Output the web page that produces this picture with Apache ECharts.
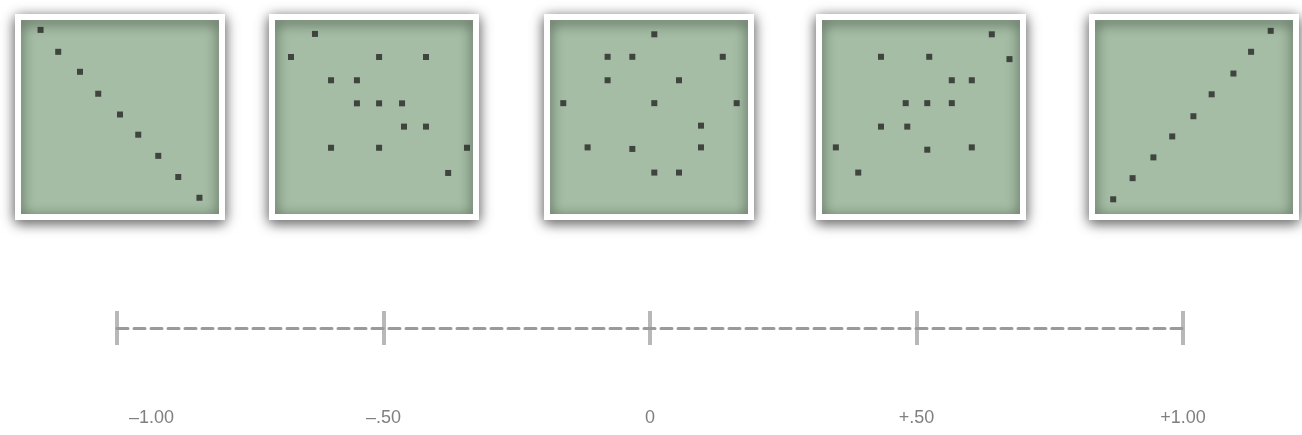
<!DOCTYPE html>
<html>
<head>
<meta charset="utf-8">
<script src="https://cdn.jsdelivr.net/npm/echarts@6/dist/echarts.min.js"></script>
<style>
  html, body { margin: 0; padding: 0; background: #fff; }
  #main { width: 1302px; height: 435px; }
</style>
</head>
<body>
<div id="main"></div>
<script>
// points, [x, y] on a 0-100 scale
var perfectNeg = [[9.5,95.3],[18.5,83.9],[29.6,73.5],[38.9,62.1],[50,51.3],[59.3,40.8],[69.5,29.8],[79.7,18.8],[90.5,8.0]];
var moderateNeg = [[19.9,93.2],[7.7,81.2],[52.6,81.2],[76.5,81.2],[28.1,69.1],[41.3,69.1],[41.3,57.1],[52.6,57.1],[64.3,57.1],
  [65.3,45.0],[76.5,45.0],[28.1,34.0],[52.6,34.0],[97.4,34.0],[87.8,20.9]];
var noCorr = [[52.7,93.0],[28.9,81.3],[41.5,81.3],[87.6,81.3],[28.9,69.1],[65.3,69.1],[6.3,57.2],[52.7,57.2],[94.7,57.2],
  [76.5,45.5],[18.7,34.2],[41.5,33.4],[76.5,34.2],[52.7,21.1],[65.3,21.1]];
var moderatePos = [[86.1,93.0],[29.6,81.3],[54.2,81.3],[95.1,80.1],[65.7,69.1],[75.9,69.1],[42.2,57.2],[53.2,57.2],[65.7,57.2],
  [29.6,45.0],[43.0,45.0],[6.6,34.2],[53.2,33.0],[75.9,34.2],[18.0,21.1]];
var perfectPos = [[89.1,94.8],[79.1,83.9],[70.1,72.6],[59.0,61.8],[49.7,50.4],[38.9,39.9],[29.3,29.0],[18.7,18.2],[8.8,7.2]];

var tickValues = [-1, -0.5, 0, 0.5, 1];
var tickLabels = ['–1.00', '–.50', '0', '+.50', '+1.00'];

var panels = [perfectNeg, moderateNeg, noCorr, moderatePos, perfectPos];
var panelLeft = [18, 272, 547, 819, 1092];

var chart = echarts.init(document.getElementById('main'));

var grid = [], xAxis = [], yAxis = [], series = [];
panels.forEach(function (pts, i) {
  grid.push({
    left: panelLeft[i], top: 17, width: 204, height: 200,
    outerBoundsMode: 'none',
    show: true,
    backgroundColor: '#a4bda4',
    borderColor: '#ffffff',
    borderWidth: 6,
    shadowBlur: 13,
    shadowColor: 'rgba(0,0,0,0.6)',
    shadowOffsetY: 3
  });
  xAxis.push({ gridIndex: i, type: 'value', min: -2, max: 102, show: false });
  yAxis.push({ gridIndex: i, type: 'value', min: -2, max: 102, show: false });
  series.push({
    type: 'scatter',
    xAxisIndex: i,
    yAxisIndex: i,
    symbol: 'rect',
    symbolSize: 6,
    itemStyle: { color: '#262626' },
    data: pts
  });
});

// the correlation scale underneath
grid.push({ left: 117, top: 311, width: 1066, height: 34, outerBoundsMode: 'none' });
xAxis.push({
  gridIndex: 5,
  type: 'value',
  min: tickValues[0],
  max: tickValues[tickValues.length - 1],
  interval: 0.5,
  axisLine: { onZero: true, lineStyle: { color: '#9a9a9a', width: 3, type: [11, 6] } },
  axisTick: { show: false },
  splitLine: { show: true, lineStyle: { color: '#b8b8b8', width: 4 } },
  axisLabel: {
    margin: 64,
    fontSize: 18,
    fontFamily: 'Liberation Sans, Arial, sans-serif',
    color: '#808080',
    formatter: function (v) {
      var i = tickValues.indexOf(v);
      if (i === 0) return '{first|' + tickLabels[i] + '}';
      return i >= 0 ? tickLabels[i] : '';
    },
    rich: {
      first: { padding: [0, 0, 0, 12], fontSize: 18, color: '#808080', fontFamily: 'Liberation Sans, Arial, sans-serif' }
    },
    alignMinLabel: 'left'
  }
});
yAxis.push({ gridIndex: 5, type: 'value', min: -1, max: 1, show: false });

chart.setOption({
  animation: false,
  backgroundColor: '#fff',
  grid: grid,
  xAxis: xAxis,
  yAxis: yAxis,
  series: series
});
</script>
</body>
</html>
